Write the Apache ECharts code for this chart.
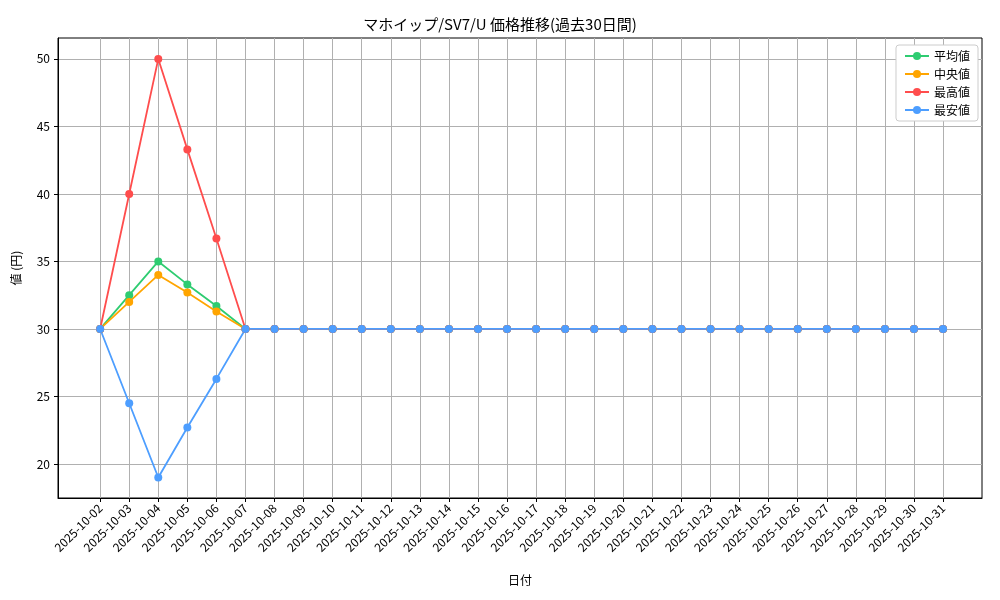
<!DOCTYPE html>
<html>
<head>
<meta charset="utf-8">
<script src="https://cdn.jsdelivr.net/npm/echarts@6/dist/echarts.min.js"></script>
<style>html,body{margin:0;background:#fff}#c{width:1000px;height:600px}</style>
</head>
<body>
<div id="c"></div>
<script>
// 日付ラベル
var dates = [];
for (var d = 2; d <= 31; d++) dates.push('2025-10-' + (d < 10 ? '0' + d : d));
var avgVals = [30, 32.5, 35, 33.3, 31.7, 30, 30, 30, 30, 30, 30, 30, 30, 30, 30, 30, 30, 30, 30, 30, 30, 30, 30, 30, 30, 30, 30, 30, 30, 30];
var medVals = [30, 32, 34, 32.7, 31.3, 30, 30, 30, 30, 30, 30, 30, 30, 30, 30, 30, 30, 30, 30, 30, 30, 30, 30, 30, 30, 30, 30, 30, 30, 30];
var maxVals = [30, 40, 50, 43.3, 36.7, 30, 30, 30, 30, 30, 30, 30, 30, 30, 30, 30, 30, 30, 30, 30, 30, 30, 30, 30, 30, 30, 30, 30, 30, 30];
var minVals = [30, 24.5, 19, 22.7, 26.3, 30, 30, 30, 30, 30, 30, 30, 30, 30, 30, 30, 30, 30, 30, 30, 30, 30, 30, 30, 30, 30, 30, 30, 30, 30];
var yTicks = [20, 25, 30, 35, 40, 45, 50];

var font = '"Noto Sans CJK JP", sans-serif';
var idx = dates.map(function (_, i) { return i; });
function pts(arr) { return arr.map(function (v, i) { return [i, v]; }); }
function line(name, arr, color) {
  return {
    name: name, type: 'line', data: pts(arr),
    symbol: 'circle', symbolSize: 8,
    lineStyle: { color: color, width: 1.8 },
    itemStyle: { color: color }
  };
}

var chart = echarts.init(document.getElementById('c'));
chart.setOption({
  animation: false,
  textStyle: { fontFamily: font },
  title: {
    text: 'マホイップ/SV7/U 価格推移(過去30日間)', left: 'center', top: 12,
    textStyle: { fontFamily: font, fontSize: 15, fontWeight: 'normal', color: '#000' }
  },
  legend: {
    top: 45, right: 22, orient: 'vertical', align: 'left',
    backgroundColor: '#fff', borderColor: '#ccc', borderWidth: 1, borderRadius: 3,
    padding: [5, 8], itemGap: 6, itemWidth: 24, itemHeight: 10,
    textStyle: { fontFamily: font, fontSize: 12, color: '#000' },
    data: ['平均値', '中央値', '最高値', '最安値']
  },
  grid: { left: 58, right: 18, top: 38, bottom: 102, show: true, borderColor: '#000', borderWidth: 1 },
  xAxis: {
    type: 'value', min: -1.45, max: 30.34,
    name: '日付', nameLocation: 'middle', nameGap: 76,
    nameTextStyle: { fontFamily: font, fontSize: 12, color: '#000' },
    axisLine: { onZero: false, lineStyle: { color: '#000' } },
    axisTick: { show: true, customValues: idx, length: 4, lineStyle: { color: '#000' } },
    axisLabel: {
      customValues: idx, rotate: 45, fontSize: 12, color: '#000', fontFamily: font,
      formatter: function (v) { return dates[Math.round(v)]; }
    },
    splitLine: { show: true, lineStyle: { color: '#b0b0b0' } }
  },
  yAxis: {
    type: 'value', min: 17.48, max: 51.55,
    name: '値 (円)', nameLocation: 'middle', nameGap: 36,
    nameTextStyle: { fontFamily: font, fontSize: 12, color: '#000' },
    axisLine: { show: true, onZero: false, lineStyle: { color: '#000' } },
    axisTick: { show: true, customValues: yTicks, length: 4, lineStyle: { color: '#000' } },
    axisLabel: { customValues: yTicks, fontSize: 12, color: '#000', fontFamily: font },
    splitLine: { show: true, lineStyle: { color: '#b0b0b0' } }
  },
  series: [
    line('平均値', avgVals, '#2ecc71'),
    line('中央値', medVals, '#ffa500'),
    line('最高値', maxVals, '#ff4d4d'),
    line('最安値', minVals, '#4d9eff')
  ]
});
</script>
</body>
</html>
